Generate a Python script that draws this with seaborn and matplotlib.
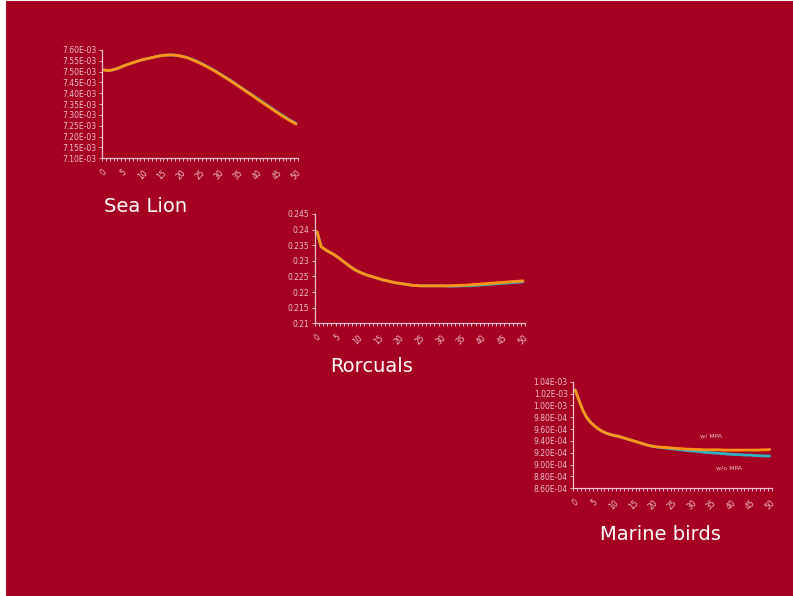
import numpy as np
import pandas as pd
import matplotlib
matplotlib.use("Agg")
import matplotlib.pyplot as plt
from matplotlib.ticker import FuncFormatter, FixedLocator
from matplotlib.patches import Rectangle
import seaborn as sns

sns.set_theme(style="white")
plt.rcParams["font.family"] = ["DejaVu Sans"]

BG = "#A50021"
AXIS_C = "#EBC3CC"
C_WITH = "#FF9414"
C_WITHOUT = "#2FB3C4"

years = list(range(51))
x_tick_labels = [str(v) for v in range(0, 51, 5)]

# Sea lion biomass (units of 1e-3)
sea_lion_with = [7.508, 7.505, 7.507, 7.512, 7.518, 7.526, 7.532, 7.538, 7.544, 7.550,
                 7.555, 7.559, 7.563, 7.567, 7.571, 7.574, 7.576, 7.577, 7.577, 7.575,
                 7.572, 7.568, 7.562, 7.555, 7.547, 7.539, 7.530, 7.521, 7.511, 7.501,
                 7.490, 7.479, 7.468, 7.457, 7.445, 7.433, 7.421, 7.409, 7.397, 7.385,
                 7.372, 7.360, 7.348, 7.336, 7.324, 7.312, 7.300, 7.289, 7.278, 7.268,
                 7.258]
sea_lion_without = [7.508, 7.505, 7.507, 7.512, 7.518, 7.526, 7.532, 7.538, 7.544, 7.550,
                    7.555, 7.559, 7.563, 7.567, 7.571, 7.574, 7.576, 7.577, 7.577, 7.575,
                    7.572, 7.568, 7.563, 7.556, 7.549, 7.541, 7.532, 7.523, 7.513, 7.503,
                    7.492, 7.481, 7.470, 7.459, 7.447, 7.435, 7.423, 7.411, 7.399, 7.387,
                    7.375, 7.363, 7.351, 7.339, 7.327, 7.315, 7.303, 7.292, 7.281, 7.271,
                    7.261]
sea_lion_ticks = [7.10, 7.15, 7.20, 7.25, 7.30, 7.35, 7.40, 7.45, 7.50, 7.55, 7.60]

# Rorquals biomass
rorcual_with = [0.2393, 0.2345, 0.2336, 0.2328, 0.2321, 0.2312, 0.2302, 0.2292, 0.2282, 0.2273,
                0.2266, 0.2260, 0.2255, 0.2251, 0.2247, 0.2243, 0.2239, 0.2236, 0.2233, 0.2230,
                0.2228, 0.2226, 0.2224, 0.2222, 0.2221, 0.2220, 0.2220, 0.2220, 0.2220, 0.2220,
                0.2220, 0.2220, 0.2220, 0.2221, 0.2221, 0.2222, 0.2222, 0.2223, 0.2224, 0.2225,
                0.2226, 0.2227, 0.2228, 0.2229, 0.2230, 0.2231, 0.2232, 0.2233, 0.2234, 0.2235,
                0.2236]
rorcual_without = [0.2393, 0.2345, 0.2336, 0.2328, 0.2321, 0.2312, 0.2302, 0.2292, 0.2282, 0.2273,
                   0.2266, 0.2260, 0.2255, 0.2251, 0.2247, 0.2243, 0.2239, 0.2236, 0.2233, 0.2230,
                   0.2228, 0.2226, 0.2224, 0.2222, 0.2221, 0.2220, 0.2220, 0.2220, 0.2220, 0.2220,
                   0.2220, 0.2220, 0.2219, 0.2219, 0.2219, 0.2220, 0.2220, 0.2220, 0.2221, 0.2222,
                   0.2223, 0.2224, 0.2225, 0.2226, 0.2227, 0.2228, 0.2229, 0.2230, 0.2231, 0.2232,
                   0.2233]
rorcual_ticks = [0.21, 0.215, 0.22, 0.225, 0.23, 0.235, 0.24, 0.245]

# Marine birds biomass (units of 1e-5)
birds_with = [102.6, 100.8, 99.1, 97.9, 97.1, 96.5, 96.0, 95.6, 95.3, 95.1,
              94.9, 94.8, 94.6, 94.4, 94.2, 94.0, 93.8, 93.6, 93.4, 93.2,
              93.1, 93.0, 92.95, 92.9, 92.85, 92.8, 92.75, 92.7, 92.65, 92.6,
              92.6, 92.55, 92.55, 92.5, 92.5, 92.5, 92.5, 92.5, 92.45, 92.45,
              92.45, 92.45, 92.45, 92.45, 92.45, 92.45, 92.45, 92.45, 92.5, 92.5,
              92.55]
birds_without = [102.6, 100.8, 99.1, 97.9, 97.1, 96.5, 96.0, 95.6, 95.3, 95.1,
                 94.9, 94.8, 94.6, 94.4, 94.2, 94.0, 93.8, 93.6, 93.4, 93.2,
                 93.1, 92.95, 92.9, 92.8, 92.75, 92.65, 92.6, 92.5, 92.45, 92.35,
                 92.3, 92.25, 92.2, 92.1, 92.05, 92.0, 91.95, 91.9, 91.85, 91.8,
                 91.75, 91.7, 91.7, 91.65, 91.6, 91.6, 91.55, 91.5, 91.5, 91.45,
                 91.45]
birds_ticks = [86, 88, 90, 92, 94, 96, 98, 100, 102, 104]

fig = plt.figure(figsize=(7.93, 5.96), dpi=100, facecolor="white")
fig.patches.append(Rectangle((6 / 793, 0), 1, 1 - 1 / 596, transform=fig.transFigure,
                             facecolor=BG, edgecolor="none", zorder=-10))

W, H = 793.0, 596.0


def add_panel(box, with_vals, without_vals, scale, ticks, fmt, title, title_xy):
    left, top, right, bottom = box
    ax = fig.add_axes([left / W, 1 - bottom / H, (right - left) / W, (bottom - top) / H])
    ax.set_facecolor("none")
    df = pd.DataFrame({
        "year": years * 2,
        "value": list(np.array(without_vals) * scale) + list(np.array(with_vals) * scale),
        "scenario": ["w/o MPA"] * 51 + ["w/ MPA"] * 51,
    })
    sns.lineplot(data=df, x="year", y="value", hue="scenario",
                 palette={"w/o MPA": C_WITHOUT, "w/ MPA": C_WITH},
                 linewidth=2.0, legend=False, ax=ax)
    t = np.array(ticks) * scale
    ax.set_ylim(t[0], t[-1])
    ax.set_xlim(-0.5, 50.5)
    ax.yaxis.set_major_locator(FixedLocator(t))
    ax.yaxis.set_major_formatter(FuncFormatter(fmt))
    ax.xaxis.set_major_locator(FixedLocator(range(0, 51, 5)))
    ax.set_xticklabels(x_tick_labels)
    ax.xaxis.set_minor_locator(FixedLocator(np.arange(-0.5, 51, 1)))
    ax.tick_params(axis="x", which="major", length=0, pad=7, labelsize=5.5,
                   labelcolor=AXIS_C, labelrotation=45)
    ax.tick_params(axis="x", which="minor", length=2.5, width=0.7, color=AXIS_C,
                   direction="out", bottom=True)
    ax.tick_params(axis="y", length=2.5, width=0.7, color=AXIS_C, direction="out",
                   labelsize=5.5, labelcolor=AXIS_C, pad=1.5, left=True)
    for lbl in ax.get_xticklabels():
        lbl.set_ha("center")
    for side in ("top", "right"):
        ax.spines[side].set_visible(False)
    for side in ("left", "bottom"):
        ax.spines[side].set_color(AXIS_C)
        ax.spines[side].set_linewidth(0.9)
    ax.set_xlabel("")
    ax.set_ylabel("")
    fig.text(title_xy[0] / W, 1 - title_xy[1] / H, title, color="white",
             fontsize=14, ha="left", va="center")
    return ax


sci = lambda v, p: f"{v:.2E}"
gen = lambda v, p: f"{round(v, 4):g}"

add_panel((102, 50, 298, 158.3), sea_lion_with, sea_lion_without, 1e-3,
          sea_lion_ticks, sci, "Sea Lion", (104, 206))
add_panel((315, 214, 525, 323.3), rorcual_with, rorcual_without, 1.0,
          rorcual_ticks, gen, "Rorcuals", (330, 367))
ax3 = add_panel((573.3, 381.7, 771.7, 488.3), birds_with, birds_without, 1e-5,
                birds_ticks, sci, "Marine birds", (600, 535))

fig.text(700 / W, 1 - 436 / H, "w/ MPA", color=AXIS_C, fontsize=4.5, ha="left", va="center")
fig.text(716 / W, 1 - 468 / H, "w/o MPA", color=AXIS_C, fontsize=4.5, ha="left", va="center")

fig.savefig("out.png", dpi=100, facecolor=fig.get_facecolor())
